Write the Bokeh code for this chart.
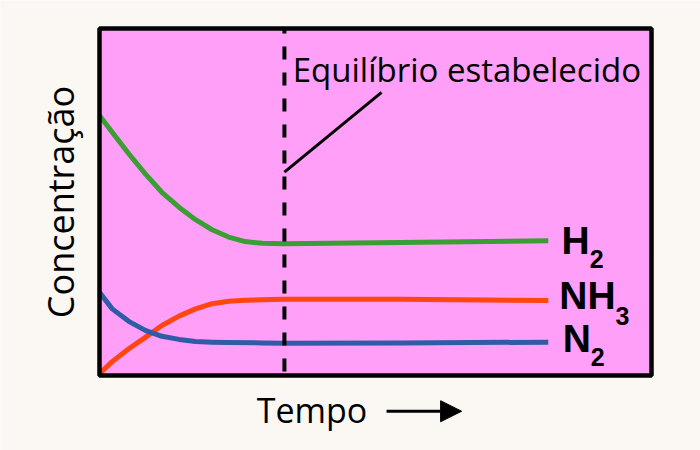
import math
from bokeh.plotting import figure
from bokeh.models import Range1d, Arrow, NormalHead
from bokeh.core.properties import value
from bokeh.embed import file_html
from bokeh.resources import INLINE

# ---- data (time and concentration, both in % of the plot box) ----
h2_t = [0, 2.3, 5.3, 8.3, 11.3, 14.4, 17.4, 20.4, 23.4, 26.4, 29.5, 33.3, 54.5, 81.3]
h2_c = [74.9, 70.1, 63.9, 58.1, 52.8, 48.5, 44.9, 42.0, 39.9, 38.6, 38.1, 38.0, 38.3, 38.8]

n2_t = [0, 2.3, 5.3, 8.3, 11.3, 14.4, 17.4, 20.4, 23.4, 29.5, 33.2, 54.5, 81.3]
n2_c = [24.0, 19.2, 15.6, 13.0, 11.3, 10.4, 9.8, 9.6, 9.5, 9.4, 9.3, 9.4, 9.6]

nh3_t = [0, 2.3, 5.3, 8.3, 11.3, 14.4, 17.4, 20.4, 23.4, 26.4, 29.5, 33.2, 54.5, 81.3]
nh3_c = [0.5, 4.0, 7.7, 11.0, 14.4, 17.1, 19.2, 20.7, 21.4, 21.7, 21.8, 22.0, 22.0, 21.6]

t_equilibrium = 33.5
annotation_text = "Equilíbrio estabelecido"
species = ["H", "NH", "N"]
subscripts = ["2", "3", "2"]
x_label = "Tempo"
y_label = "Concentração"

PINK = "#FF9FF8"
CREAM = "#FBF8F3"
GREEN = "#3A9E34"
BLUE = "#2F5CA6"
RED = "#FF4510"

p = figure(width=700, height=450, output_backend="svg", toolbar_location=None,
           x_range=Range1d(-17.935, 108.877), y_range=Range1d(-21.614, 108.069),
           x_axis_location=None, y_axis_location=None,
           min_border=0, min_border_left=0, min_border_right=0,
           min_border_top=0, min_border_bottom=0)
p.background_fill_color = CREAM
p.border_fill_color = CREAM
p.outline_line_color = None
p.xgrid.visible = False
p.ygrid.visible = False

# plot box
p.quad(left=[0], right=[100], bottom=[0], top=[100], fill_color=PINK, line_color=None)

p.line(h2_t, h2_c, line_color=GREEN, line_width=5, line_join="round")
p.line(nh3_t, nh3_c, line_color=RED, line_width=5, line_join="round")
p.line(n2_t, n2_c, line_color=BLUE, line_width=5, line_join="round")

# equilibrium dashed line
p.line([t_equilibrium, t_equilibrium], [100, 0], line_color="black",
       line_width=4, line_dash="13 13", line_dash_offset=8)
# pointer line
p.line([33.5, 51.1], [58.6, 81.6], line_color="black", line_width=3)

# box border on top
p.quad(left=[0], right=[100], bottom=[0], top=[100], fill_color=None,
       line_color="black", line_width=4.5)

p.text(x=[35.0], y=[88.2], text=[annotation_text], text_font=value("Open Sans"),
       text_font_size="33px", text_color="black",
       text_baseline="alphabetic", text_align="left")

# species labels with subscripts
main_x = [83.7, 83.3, 83.9]
main_y = [39.0, 23.0, 10.8]
sub_x = [88.8, 93.5, 89.0]
sub_y = [33.5, 17.2, 5.4]
p.text(x=main_x, y=main_y, text=species, text_font=value("Liberation Sans"),
       text_font_style="bold", text_font_size="39px", text_color="black",
       text_baseline="alphabetic", text_align="left")
p.text(x=sub_x, y=sub_y, text=subscripts, text_font=value("Liberation Sans"),
       text_font_style="bold", text_font_size="25px", text_color="black",
       text_baseline="alphabetic", text_align="left")

# axis titles
p.text(x=[-7.1], y=[50.0], text=[y_label], text_font=value("Open Sans"),
       text_font_size="36px", text_color="black", angle=math.pi / 2,
       text_align="center", text_baseline="alphabetic")
p.text(x=[38.5], y=[-10.0], text=[x_label], text_font=value("Open Sans"),
       text_font_size="34px", text_color="black",
       text_align="center", text_baseline="alphabetic")
p.add_layout(Arrow(x_start=52.0, y_start=-10.3, x_end=65.6, y_end=-10.3,
                   line_color="black", line_width=3,
                   end=NormalHead(size=21, fill_color="black", line_color="black",
                                  line_width=1)))

open("out.html", "w").write(file_html(p, INLINE))
